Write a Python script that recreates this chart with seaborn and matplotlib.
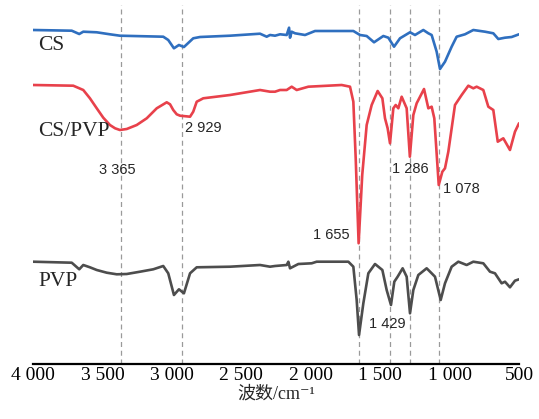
import numpy as np
import pandas as pd
import matplotlib
matplotlib.use("Agg")
import matplotlib.pyplot as plt
import seaborn as sns

# ---------------- data ----------------
cs_wn = [4000, 3721, 3667, 3638, 3541, 3446, 3374, 3062, 3026, 2985, 2949, 2913, 2846, 2797, 2581,
         2365, 2317, 2293, 2257, 2221, 2173, 2156, 2149, 2137, 2113, 2041, 1969, 1873,
         1693, 1645, 1597, 1544, 1477, 1441, 1400, 1357, 1285, 1249, 1189, 1153, 1129,
         1093, 1069, 1033, 985, 949, 889, 829, 745, 685, 649, 601, 553, 500]
cs_t = [334, 333.3, 330, 332.3, 331.7, 329.7, 328.3, 327.3, 324, 315.7, 319, 317, 325.7, 327, 328.3,
        330.3, 327.3, 329, 328.3, 329.7, 329, 336.3, 326.3, 332.3, 330.7, 329, 333, 333,
        333, 329, 328, 321.7, 328, 326.3, 317.3, 325.7, 331.7, 329, 334, 330.7, 329,
        312.3, 295, 302.3, 317.3, 327.3, 329.7, 334, 332.3, 330.7, 325, 326.3, 327, 329.7]

blend_wn = [4000, 3710, 3638, 3590, 3541, 3494, 3446, 3409, 3374, 3325, 3253, 3181, 3109,
            3037, 3013, 2990, 2965, 2941, 2869, 2846, 2821, 2797,
            2774, 2581, 2365, 2293, 2257, 2221, 2173, 2137, 2101, 2017, 1777, 1717, 1693,
            1676, 1655, 1629, 1597, 1561, 1518, 1484, 1465, 1446, 1429, 1405, 1388, 1369,
            1345, 1309, 1286, 1261, 1237, 1184, 1153, 1129, 1110, 1078, 1052, 1033, 1009,
            961, 913, 865, 829, 805, 757, 721, 685, 653, 613, 565, 529, 500]
blend_t = [279, 278.3, 274, 265.7, 255.7, 246.3, 239, 235.7, 234, 235, 239, 245.7, 255.7,
           261.7, 259.7, 254, 249.7, 248.3, 247.3, 252.3, 262.3, 264,
           265.7, 269, 274, 272.3, 272.3, 274, 274, 277.3, 274, 277.3, 279, 277.3, 262.3,
           205.7, 120.7, 189, 239, 259, 273, 265.7, 245.7, 235.7, 220.7, 255.7, 259, 255.7,
           267.3, 255.7, 207.3, 249, 260.7, 275, 255.7, 257.3, 245.7, 179, 192.3, 195.7, 212.3,
           259, 269, 278.3, 275.7, 277.3, 274, 257.3, 254, 222.3, 225.7, 214, 232.3, 240.7]

pvp_wn = [4000, 3721, 3667, 3638, 3590, 3541, 3469, 3397, 3325, 3229, 3134, 3062, 3026,
          2985, 2949, 2913, 2869,
          2821, 2581, 2365, 2293, 2257, 2173, 2161, 2149, 2089, 1993, 1957, 1729, 1693,
          1669, 1652, 1621, 1585, 1537, 1484, 1453, 1422, 1398, 1374, 1338, 1309, 1285,
          1261, 1225, 1165, 1129, 1105, 1064, 1033, 985, 937, 877, 829, 757, 709, 673,
          625, 601, 565, 529, 500]
pvp_t = [102.3, 101.3, 94.7, 99, 96.7, 94, 91.3, 89.7, 90, 92.3, 94.7, 98, 90.7,
         69, 74.7, 70.7, 90.7,
         96.7, 97.3, 99, 97.3, 98, 99, 102.3, 95.7, 100, 100.7, 102.3, 102.3, 97.3,
         64, 29, 60.7, 90.7, 100, 94, 74, 59, 82.3, 87.3, 95.7, 87.3, 50.7,
         74, 89, 95.7, 90.7, 87.3, 64, 80.7, 97.3, 102.3, 99, 102.3, 100.7, 92.3, 90.7,
         80.7, 82.3, 76.7, 83.3, 84.7]

samples = ["CS", "CS/PVP", "PVP"]
colors = ["#2f6fbf", "#e8414b", "#4d4d4d"]
label_t = [318, 232, 82]

peak_wn = [3365, 2929, 1655, 1429, 1286, 1078]
peak_labels = ["3 365", "2 929", "1 655", "1 429", "1 286", "1 078"]
peak_label_x = [3395, 2772, 1850, 1451, 1285, 914]
peak_label_y = [193.5, 235.5, 129, 40, 195, 175]

xticks = [4000, 3500, 3000, 2500, 2000, 1500, 1000, 500]
xticklabels = ["4 000", "3 500", "3 000", "2 500", "2 000", "1 500", "1 000", "500"]

# ---------------- plot ----------------
sns.set_style("white")
plt.rcParams["font.family"] = ["Liberation Serif", "Noto Sans CJK SC", "DejaVu Sans"]

df = pd.concat([
    pd.DataFrame({"wn": cs_wn, "T": cs_t, "sample": "CS"}),
    pd.DataFrame({"wn": blend_wn, "T": blend_t, "sample": "CS/PVP"}),
    pd.DataFrame({"wn": pvp_wn, "T": pvp_t, "sample": "PVP"}),
], ignore_index=True)

fig = plt.figure(figsize=(5.39, 4.19), dpi=100)
ax = fig.add_axes([33 / 539, (419 - 364) / 419, 486 / 539, 364 / 419])

for w in peak_wn:
    ax.plot([w, w], [0, 359], color="#9a9a9a", lw=0.9, ls=(0, (4, 3)), zorder=1)

sns.lineplot(data=df, x="wn", y="T", hue="sample", palette=dict(zip(samples, colors)),
             estimator=None, sort=True, legend=False, linewidth=1.9, ax=ax, zorder=3)
for ln in ax.lines:
    ln.set_solid_joinstyle("round")

for s, yt in zip(samples, label_t):
    ax.text(3964, yt, s, fontsize=15.5, ha="left", va="center",
            family=["Liberation Serif"])

for lx, ly, lab in zip(peak_label_x, peak_label_y, peak_labels):
    ax.text(lx, ly, lab, fontsize=10.5, ha="center", va="center",
            family=["Liberation Sans"])

ax.set_xlim(4000, 500)
ax.set_ylim(0, 364)
ax.set_xticks(xticks)
ax.set_xticklabels(xticklabels, fontsize=14, family=["Liberation Serif"])
ax.set_yticks([])
ax.set_xlabel("波数/cm\u207b\u00b9", fontsize=13, labelpad=1,
              family=["Liberation Serif", "Noto Sans CJK SC", "DejaVu Sans"])
ax.set_ylabel("")
for side in ["left", "right", "top"]:
    ax.spines[side].set_visible(False)
ax.spines["bottom"].set_linewidth(1.6)
ax.spines["bottom"].set_color("black")
ax.tick_params(axis="x", direction="in", length=4, width=1.5, pad=2, colors="black")
ax.patch.set_alpha(0)

fig.savefig("out.png", dpi=100)
